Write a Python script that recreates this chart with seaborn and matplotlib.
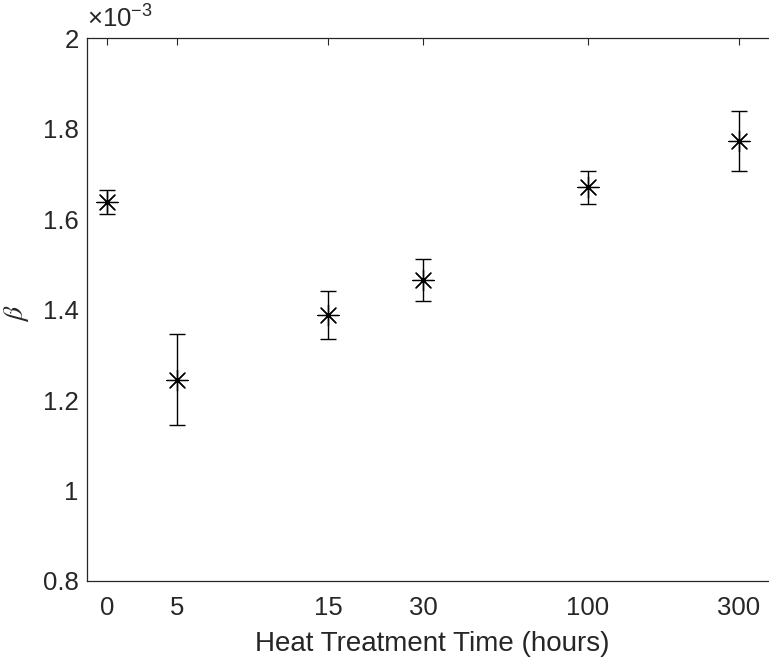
import matplotlib
matplotlib.use("Agg")
import matplotlib.pyplot as plt
import seaborn as sns
import pandas as pd
from matplotlib.ticker import FuncFormatter

# ---- data ----
time_labels = ["0", "5", "15", "30", "100", "300"]
time_pos = [0.00, 0.70, 2.21, 3.16, 4.81, 6.32]          # axis position of each category
beta_e3 = [1.637, 1.245, 1.388, 1.465, 1.670, 1.772]     # beta in units of 1e-3
beta_err_e3 = [0.027, 0.101, 0.053, 0.046, 0.036, 0.066]
y_ticks = [0.8, 1.0, 1.2, 1.4, 1.6, 1.8, 2.0]

df = pd.DataFrame({"pos": time_pos, "beta": beta_e3, "err": beta_err_e3})

sns.set_theme(style="white")
plt.rcParams["font.family"] = ["Liberation Sans", "DejaVu Sans"]
plt.rcParams["mathtext.fontset"] = "custom"
plt.rcParams["mathtext.rm"] = "Liberation Sans"
gray = "#262626"

fig = plt.figure(figsize=(7.69, 6.60), dpi=100)
# right edge of the box lies just outside the canvas, as in the reference
ax = fig.add_axes([0.1131, 0.1197, 0.8973, 0.8227])

ax.errorbar(df["pos"], df["beta"], yerr=df["err"], fmt="none",
            ecolor="black", elinewidth=1.0, capsize=5.8, capthick=1.0, zorder=2)
sns.scatterplot(data=df, x="pos", y="beta", marker=(8, 2, 0), s=230,
                color="black", linewidth=0.9, edgecolor="black", ax=ax, zorder=3,
                legend=False)

ax.set_xlim(-0.20, 6.70)
ax.set_ylim(0.8, 2.0)
ax.set_xticks(time_pos)
ax.set_xticklabels(time_labels)
ax.set_yticks(y_ticks)
ax.yaxis.set_major_formatter(FuncFormatter(lambda v, p: f"{v:g}"))

ax.tick_params(direction="in", length=5, width=0.8, colors=gray,
               labelsize=18.5, top=True, right=True, labelcolor=gray)
ax.tick_params(axis="x", pad=11)
ax.tick_params(axis="y", pad=6)
for s in ax.spines.values():
    s.set_color(gray)
    s.set_linewidth(0.9)

ax.set_xlabel("Heat Treatment Time (hours)", fontsize=20, color=gray, labelpad=8)
ax.set_ylabel("")
fig.text(0.022, 0.525, r"$\beta$", rotation=90, fontsize=20, color=gray,
         ha="center", va="center", math_fontfamily="stix")
ax.text(0.0, 1.012, "\u00d710$^{\\mathrm{-3}}$", transform=ax.transAxes,
        fontsize=18.5, color=gray, ha="left", va="bottom")

fig.savefig("out.png", dpi=100)
